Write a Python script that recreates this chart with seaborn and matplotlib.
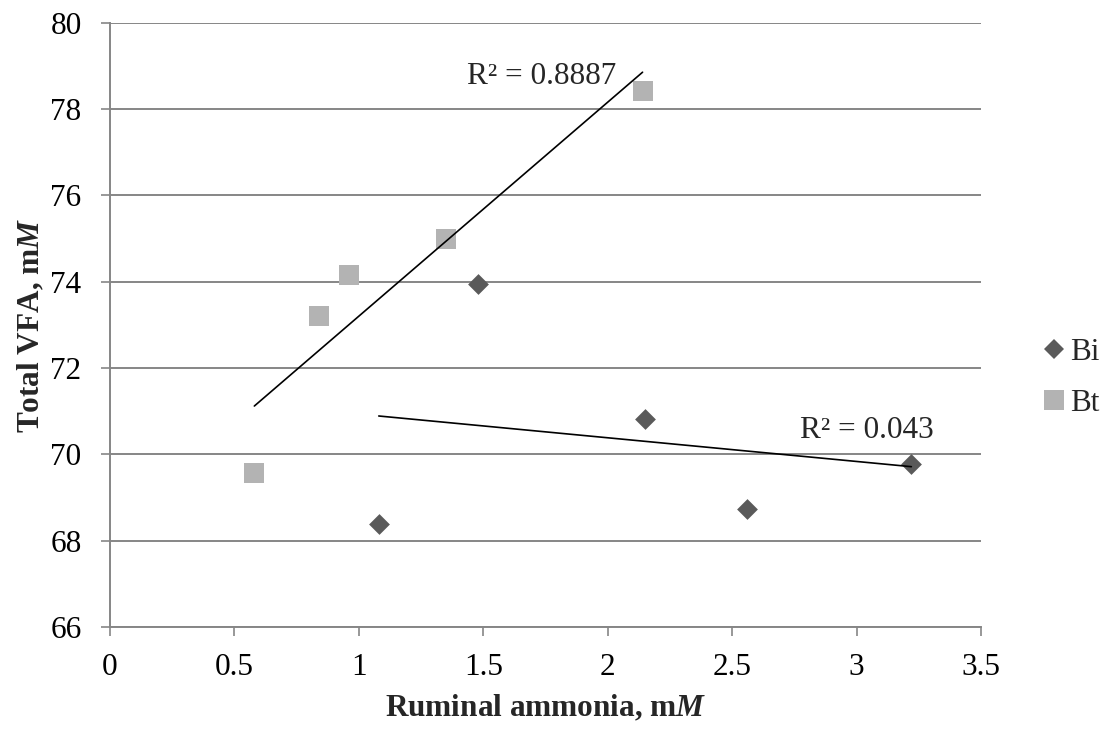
import numpy as np
import pandas as pd
import matplotlib
matplotlib.use("Agg")
import matplotlib.pyplot as plt
import seaborn as sns
from matplotlib.lines import Line2D

# ---- data ----
bi_x = [1.08, 1.48, 2.15, 2.56, 3.22]
bi_y = [68.38, 73.94, 70.83, 68.73, 69.77]
bt_x = [0.58, 0.84, 0.96, 1.35, 2.14]
bt_y = [69.57, 73.20, 74.15, 74.98, 78.42]
series_names = ["Bi", "Bt"]
r2_labels = ["R² = 0.043", "R² = 0.8887"]
x_ticks = [0, 0.5, 1, 1.5, 2, 2.5, 3, 3.5]
x_tick_labels = ["0", "0.5", "1", "1.5", "2", "2.5", "3", "3.5"]
y_ticks = [66, 68, 70, 72, 74, 76, 78, 80]
x_label = "Ruminal ammonia, m$\\boldsymbol{M}$"
y_label = "Total VFA, m$\\boldsymbol{M}$"

sns.set_theme(style="white")
plt.rcParams["font.family"] = ["Liberation Serif", "DejaVu Serif"]
plt.rcParams["mathtext.fontset"] = "custom"
plt.rcParams["mathtext.rm"] = "Liberation Serif"
plt.rcParams["mathtext.it"] = "Liberation Serif:italic"
plt.rcParams["mathtext.bf"] = "Liberation Serif:bold"
plt.rcParams["mathtext.bfit"] = "Liberation Serif:bold:italic"

GRID = "#868686"
C_BI = "#5a5a5a"
C_BT = "#b3b3b3"
FS = 22.5

df_bi = pd.DataFrame({"x": bi_x, "y": bi_y})
df_bt = pd.DataFrame({"x": bt_x, "y": bt_y})

fig = plt.figure(figsize=(11.07, 7.30), dpi=100)
ax = fig.add_axes([110 / 1107, 1 - 627 / 730, (981 - 110) / 1107, (627 - 22.7) / 730])

sns.scatterplot(data=df_bi, x="x", y="y", marker="D", s=112, color=C_BI,
                linewidth=0, ax=ax, zorder=3)
sns.scatterplot(data=df_bt, x="x", y="y", marker="s", s=205, color=C_BT,
                linewidth=0, ax=ax, zorder=3)

# linear trendlines
sns.regplot(data=df_bi, x="x", y="y", scatter=False, ci=None, truncate=True,
            color="black", line_kws={"lw": 1.2, "zorder": 4}, ax=ax)
sns.regplot(data=df_bt, x="x", y="y", scatter=False, ci=None, truncate=True,
            color="black", line_kws={"lw": 1.2, "zorder": 4}, ax=ax)

ax.text(2.772, 70.38, r2_labels[0], fontsize=FS, ha="left", va="baseline")
ax.text(1.436, 78.58, r2_labels[1], fontsize=FS, ha="left", va="baseline")

ax.set_xlim(0, 3.5)
ax.set_ylim(66, 80)
ax.set_xticks(x_ticks)
ax.set_xticklabels(x_tick_labels)
ax.set_yticks(y_ticks)

ax.yaxis.grid(True, color=GRID, lw=1.4)
ax.xaxis.grid(False)
ax.set_axisbelow(True)
for side in ["top", "right"]:
    ax.spines[side].set_visible(False)
for side in ["left", "bottom"]:
    ax.spines[side].set_color(GRID)
    ax.spines[side].set_linewidth(1.4)
ax.tick_params(axis="both", which="major", direction="out", length=6.5,
               width=1.2, color=GRID, labelsize=FS, labelcolor="black",
               bottom=True, left=True)
ax.tick_params(axis="x", pad=12)
ax.tick_params(axis="y", pad=14)

ax.set_xlabel(x_label, fontsize=FS, fontweight="bold", labelpad=8)
ax.set_ylabel(y_label, fontsize=FS, fontweight="bold", labelpad=3)

handles = [
    Line2D([], [], marker="D", color=C_BI, linestyle="none", markersize=10.6, markeredgewidth=0),
    Line2D([], [], marker="s", color=C_BT, linestyle="none", markersize=14.3, markeredgewidth=0),
]
fig.legend(handles, series_names, loc="center left",
           bbox_to_anchor=(1040 / 1107, 1 - 378 / 730), frameon=False,
           fontsize=FS, handlelength=0.9, handletextpad=0.05,
           labelspacing=0.7, borderpad=0, borderaxespad=0)

fig.savefig("out.png", dpi=100)
